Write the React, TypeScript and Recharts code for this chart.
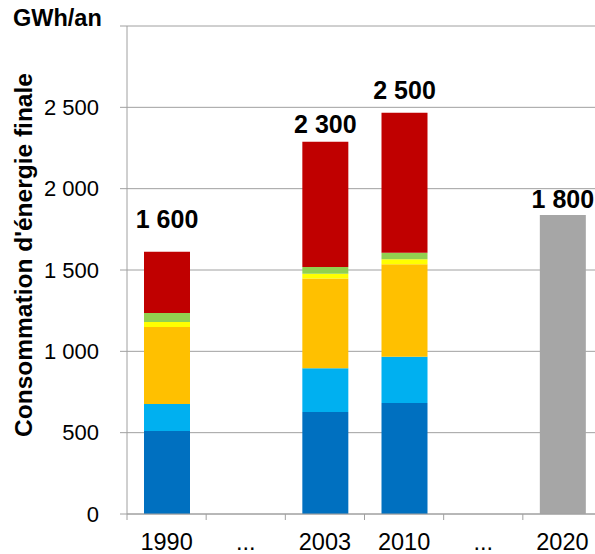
import React from "react";
import {
  BarChart,
  Bar,
  XAxis,
  YAxis,
  CartesianGrid,
  LabelList,
} from "recharts";

// années (les "..." marquent les périodes sautées)
const years = ["1990", "...", "2003", "2010", "...", "2020"];

const bleuFonce = [510, null, 627, 682, null, null];
const bleuClair = [166, null, 269, 285, null, null];
const orange = [474, null, 551, 568, null, null];
const jaune = [30, null, 30, 31, null, null];
const vert = [56, null, 41, 40, null, null];
const rouge = [376, null, 771, 861, null, null];
const objectif = [null, null, null, null, null, 1838];

// totaux affichés au-dessus des barres
const totals = ["1 600", "", "2 300", "2 500", "", "1 800"];

const yTicks = [0, 500, 1000, 1500, 2000, 2500, 3000];

// petit décalage vertical des étiquettes, comme sur l'original
const labelLift = [20, 0, 5, 10, 0, 3];

const data = years.map((year, i) => ({
  year,
  bleuFonce: bleuFonce[i],
  bleuClair: bleuClair[i],
  orange: orange[i],
  jaune: jaune[i],
  vert: vert[i],
  rouge: rouge[i],
  objectif: objectif[i],
  total: totals[i],
}));

const FONT = "'Liberation Sans', Arial, sans-serif";
const GRID = "#A0A0A0";

const CHART_W = 602;
const CHART_H = 554;
const LEFT = 127;
const TOP = 26;
const X_AXIS_H = 40;
const slot = (CHART_W - LEFT) / years.length;

const fmt = (v: number) => {
  if (v >= 3000) return "";
  if (v >= 1000) {
    const k = Math.floor(v / 1000);
    const r = String(v % 1000).padStart(3, "0");
    return `${k}\u00a0${r}`;
  }
  return String(v);
};

const XTick = (props: any) => {
  const { x, y, payload, index } = props;
  const left = x - slot / 2;
  return (
    <g>
      <line x1={left} x2={left} y1={y} y2={y + 6} stroke={GRID} />
      {index === years.length - 1 && (
        <line x1={left + slot} x2={left + slot} y1={y} y2={y + 6} stroke={GRID} />
      )}
      <text
        x={x}
        y={y + 36}
        textAnchor="middle"
        fontSize={23.5}
        fontFamily={FONT}
        fill="#000"
      >
        {payload.value}
      </text>
    </g>
  );
};

const TotalLabel = (props: any) => {
  const { x, y, width, value } = props;
  if (!value) return null;
  const lift = labelLift[totals.indexOf(value)] || 0;
  return (
    <text
      x={x + width / 2}
      y={y - 4 - lift}
      textAnchor="middle"
      fontSize={25}
      fontWeight="bold"
      fontFamily={FONT}
      fill="#000"
    >
      {value}
    </text>
  );
};

export default function App() {
  return (
    <div
      style={{
        position: "absolute",
        left: 0,
        top: 0,
        width: 595,
        height: 554,
        overflow: "hidden",
        background: "#fff",
      }}
    >
      <div
        style={{
          position: "absolute",
          left: 13,
          top: 5,
          fontFamily: FONT,
          fontWeight: "bold",
          fontSize: 23.5,
          color: "#000",
        }}
      >
        GWh/an
      </div>
      <BarChart
        width={CHART_W}
        height={CHART_H}
        data={data}
        margin={{ top: TOP, right: 0, bottom: 0, left: 0 }}
        barSize={46}
      >
        <CartesianGrid horizontal vertical={false} stroke={GRID} />
        <XAxis
          dataKey="year"
          height={X_AXIS_H}
          axisLine={{ stroke: GRID }}
          tickLine={false}
          tickSize={0}
          tickMargin={0}
          interval={0}
          tick={<XTick />}
        />
        <YAxis
          width={LEFT}
          domain={[0, 3000]}
          ticks={yTicks}
          interval={0}
          axisLine={{ stroke: GRID }}
          tickLine={{ stroke: GRID }}
          tickSize={7}
          tickMargin={21}
          tickFormatter={fmt}
          tick={{ fontSize: 22, fontFamily: FONT, fill: "#000" }}
          label={{
            content: () => (
              <text
                x={32}
                y={255}
                transform="rotate(-90 32 255)"
                textAnchor="middle"
                fontSize={24.5}
                fontWeight="bold"
                fontFamily={FONT}
                fill="#000"
              >
                Consommation d'énergie finale
              </text>
            ),
          }}
        />
        <Bar dataKey="bleuFonce" stackId="a" fill="#0070C0" isAnimationActive={false} />
        <Bar dataKey="bleuClair" stackId="a" fill="#00B0F0" isAnimationActive={false} />
        <Bar dataKey="orange" stackId="a" fill="#FFC000" isAnimationActive={false} />
        <Bar dataKey="jaune" stackId="a" fill="#FFFF00" isAnimationActive={false} />
        <Bar dataKey="vert" stackId="a" fill="#92D050" isAnimationActive={false} />
        <Bar dataKey="rouge" stackId="a" fill="#C00000" isAnimationActive={false}>
          <LabelList dataKey="total" content={<TotalLabel />} />
        </Bar>
        <Bar dataKey="objectif" stackId="a" fill="#A6A6A6" isAnimationActive={false}>
          <LabelList dataKey="total" content={<TotalLabel />} />
        </Bar>
      </BarChart>
    </div>
  );
}
